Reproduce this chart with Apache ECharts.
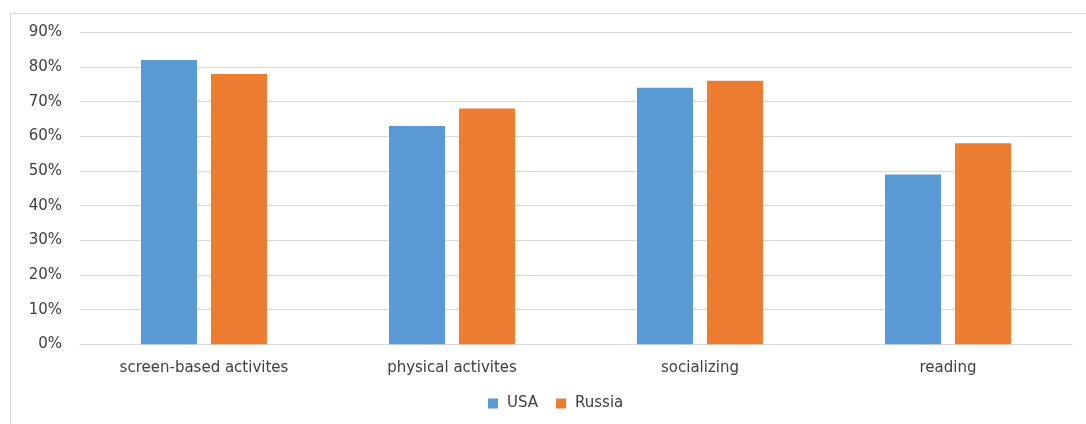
<!DOCTYPE html>
<html>
<head>
<meta charset="utf-8">
<script src="https://cdn.jsdelivr.net/npm/echarts@6/dist/echarts.min.js"></script>
<style>
  html, body { margin: 0; padding: 0; background: #fff; }
  #chart { width: 1086px; height: 424px; }
</style>
</head>
<body>
<div id="chart"></div>
<script>
// Leisure activities by country, share of respondents
const categories = ['screen-based activites', 'physical activites', 'socializing', 'reading'];
const usaValues = [82, 63, 74, 49];
const russiaValues = [78, 68, 76, 58];
const seriesNames = ['USA', 'Russia'];

const FONT = '"DejaVu Sans", sans-serif';
const chart = echarts.init(document.getElementById('chart'), null, { renderer: 'canvas' });

chart.setOption({
  animation: false,
  backgroundColor: '#ffffff',
  color: ['#5B9BD5', '#ED7D31'],
  graphic: [{
    type: 'rect',
    shape: { x: 10.5, y: 13.5, width: 1090, height: 430 },
    style: { fill: 'none', stroke: '#d9d9d9', lineWidth: 1 },
    silent: true
  }],
  grid: { left: 80, right: 14, top: 32.3, bottom: 79.7, containLabel: false },
  legend: {
    data: seriesNames,
    bottom: 8,
    left: 483,
    itemWidth: 10,
    itemHeight: 10,
    itemGap: 18,
    icon: 'rect',
    textStyle: { fontFamily: FONT, fontSize: 15, color: '#404040', padding: [0, 0, 0, 4] }
  },
  xAxis: {
    type: 'category',
    data: categories,
    axisLine: { show: true, lineStyle: { color: '#d9d9d9' } },
    axisTick: { show: false },
    axisLabel: { fontFamily: FONT, fontSize: 15, color: '#404040', margin: 16 }
  },
  yAxis: {
    type: 'value',
    min: 0,
    max: 90,
    interval: 10,
    axisLine: { show: false },
    axisTick: { show: false },
    splitLine: { lineStyle: { color: '#d9d9d9', width: 1 } },
    axisLabel: {
      fontFamily: FONT, fontSize: 15, color: '#404040', margin: 18,
      formatter: v => v + '%'
    }
  },
  series: [
    { name: seriesNames[0], type: 'bar', data: usaValues, barWidth: 56, barGap: '25%' },
    { name: seriesNames[1], type: 'bar', data: russiaValues, barWidth: 56, barGap: '25%' }
  ]
});
</script>
</body>
</html>
